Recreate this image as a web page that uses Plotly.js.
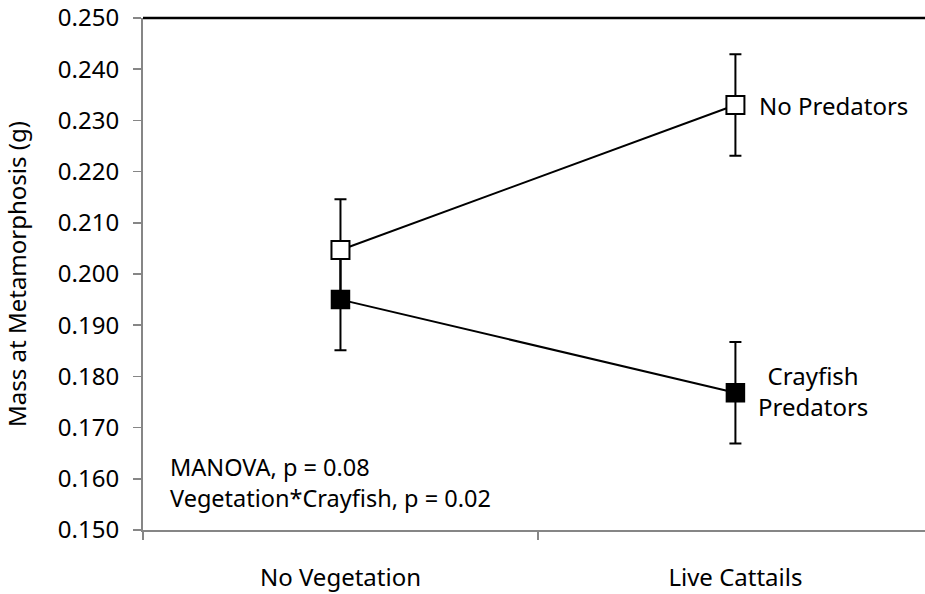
<!DOCTYPE html>
<html>
<head>
<meta charset="utf-8">
<script src="https://cdn.plot.ly/plotly-3.0.1.min.js"></script>
<style>html,body{margin:0;padding:0;overflow:hidden;background:#fff}</style>
</head>
<body>
<div id="chart" style="width:925px;height:594px"></div>
<script>
const categories = ["No Vegetation", "Live Cattails"];
const noPredators = [0.2047, 0.2330];
const noPredErr = [0.0099, 0.0099];
const crayfish = [0.1950, 0.1768];
const crayfishErr = [0.0099, 0.0099];
const seriesLabels = ["No Predators", "Crayfish<br>Predators"];
const statsText = "MANOVA, p = 0.08<br>Vegetation*Crayfish, p = 0.02";
const yTitle = "Mass at Metamorphosis (g)";

const FONT = "Noto Sans, DejaVu Sans, sans-serif";
const AX = "#868686";
const FS = 24;

const traces = [
  {
    x: categories, y: crayfish, type: "scatter", mode: "lines+markers",
    line: {color: "#000", width: 2},
    marker: {symbol: "square", size: 18, color: "#000", line: {color: "#000", width: 1.5}},
    error_y: {type: "data", array: crayfishErr, visible: true, color: "#000", thickness: 2, width: 6},
    showlegend: false, hoverinfo: "none"
  },
  {
    x: categories, y: noPredators, type: "scatter", mode: "lines+markers",
    line: {color: "#000", width: 2},
    marker: {symbol: "square", size: 18, color: "#fff", line: {color: "#000", width: 2}},
    error_y: {type: "data", array: noPredErr, visible: true, color: "#000", thickness: 2, width: 6},
    showlegend: false, hoverinfo: "none"
  }
];

const layout = {
  width: 925, height: 594,
  margin: {l: 143, r: 0, t: 18, b: 64},
  paper_bgcolor: "#fff", plot_bgcolor: "#fff",
  font: {family: FONT, size: FS, color: "#000"},
  xaxis: {
    type: "category", range: [-0.5, 1.48],
    showline: true, linecolor: AX, linewidth: 2,
    ticks: "outside", tickson: "boundaries", ticklen: 8, tickcolor: AX, tickwidth: 1.5,
    showgrid: false, zeroline: false,
    tickfont: {family: FONT, size: FS, color: "#000"},
    ticklabelstandoff: 25
  },
  yaxis: {
    range: [0.150, 0.250], dtick: 0.01, tick0: 0.15, tickformat: ".3f",
    showline: true, linecolor: AX, linewidth: 2,
    ticks: "outside", ticklen: 8, tickcolor: AX, tickwidth: 1.5,
    showgrid: false, zeroline: false,
    tickfont: {family: FONT, size: FS, color: "#000"},
    ticklabelstandoff: 9,
    title: {text: yTitle, font: {family: FONT, size: FS, color: "#000"}, standoff: 24},
    automargin: false
  },
  shapes: [
    {type: "line", xref: "paper", yref: "paper", x0: 0, x1: 1, y0: 1, y1: 1,
     line: {color: "#000", width: 2.5}}
  ],
  annotations: [
    {xref: "x", yref: "y", x: categories[1], y: noPredators[1], text: seriesLabels[0],
     showarrow: false, xanchor: "left", yanchor: "middle", xshift: 22,
     font: {family: FONT, size: FS, color: "#000"}},
    {xref: "x", yref: "y", x: categories[1], y: crayfish[1], text: seriesLabels[1],
     showarrow: false, xanchor: "center", yanchor: "middle", xshift: 78, yshift: 2, align: "center",
     font: {family: FONT, size: FS, color: "#000"}},
    {xref: "paper", yref: "paper", x: 0.032, y: 0.092, text: statsText,
     showarrow: false, xanchor: "left", yanchor: "middle", align: "left",
     font: {family: FONT, size: 23.5, color: "#000"}}
  ]
};

Plotly.newPlot("chart", traces, layout, {displayModeBar: false, staticPlot: true});
</script>
</body>
</html>
